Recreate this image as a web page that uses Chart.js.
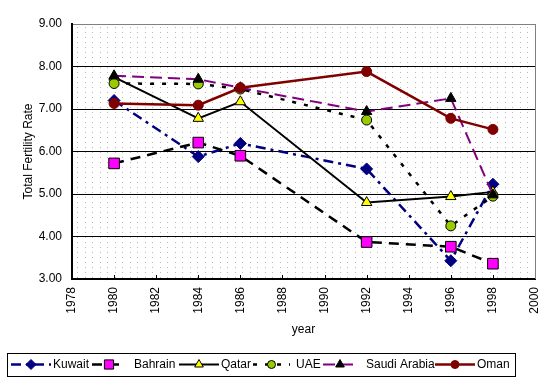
<!DOCTYPE html>
<html>
<head>
<meta charset="utf-8">
<script src="https://cdn.jsdelivr.net/npm/chart.js@4/dist/chart.umd.min.js"></script>
<style>
html,body{margin:0;padding:0;background:#fff;}
#wrap{width:559px;height:381px;position:relative;}
</style>
</head>
<body>
<div id="wrap"><canvas id="c" width="559" height="381"></canvas></div>
<script>
const years = [1980, 1984, 1986, 1992, 1996, 1998];
const kuwait = [7.20, 5.88, 6.19, 5.59, 3.43, 5.23];
const bahrain = [5.72, 6.21, 5.90, 3.87, 3.76, 3.36];
const qatar = [7.75, 6.78, 7.17, 4.80, 4.94, 5.05];
const uae = [7.60, 7.59, 7.47, 6.74, 4.25, 4.95];
const saudi = [7.78, 7.70, 7.50, 6.94, 7.25, 4.98];
const oman = [7.13, 7.09, 7.50, 7.88, 6.78, 6.52];
const legendNames = ['Kuwait', 'Bahrain', 'Qatar', 'UAE', 'Saudi Arabia', 'Oman'];

const FONT = '"Liberation Sans", Arial, sans-serif';
const pts = arr => years.map((y, i) => ({x: y, y: arr[i]}));

function ds(label, data, lineColor, width, dash, style, fill, border, radius) {
  return {
    label, data: pts(data), borderColor: lineColor, borderWidth: width, borderDash: dash,
    pointStyle: style, pointBackgroundColor: fill, pointBorderColor: border, pointBorderWidth: 1,
    pointRadius: radius, pointHoverRadius: radius, tension: 0, fill: false
  };
}

// first dataset is drawn on top
const datasets = [
  ds('Oman', oman, '#800000', 2.5, [], 'circle', '#800000', '#800000', 5),
  ds('Saudi Arabia', saudi, '#800080', 2, [12, 6], 'triangle', '#000000', '#000000', 6),
  ds('UAE', uae, '#000000', 2.5, [4, 8], 'circle', '#99cc00', '#000000', 5),
  ds('Qatar', qatar, '#000000', 2, [], 'triangle', '#ffff00', '#000000', 6),
  ds('Bahrain', bahrain, '#000000', 2.5, [10, 7], 'rect', '#ff00ff', '#000000', 7.5),
  ds('Kuwait', kuwait, '#000080', 2.5, [10, 5, 3, 5], 'rectRot', '#000080', '#000080', 6)
];

const legendLayout = {
  'Kuwait': [11, 40, 53], 'Bahrain': [92, 34, 134], 'Qatar': [179, 40, 221],
  'UAE': [253, 37, 296], 'Saudi Arabia': [323, 34, 366], 'Oman': [435, 40, 477]
};

const bgPlugin = {
  id: 'bg',
  beforeDraw(chart) {
    const {ctx, chartArea: a} = chart;
    ctx.save();
    ctx.fillStyle = '#ffffff';
    ctx.fillRect(a.left, a.top, a.right - a.left, a.bottom - a.top);
    ctx.fillStyle = '#b8b8b8';
    for (let y = a.top + 3; y < a.bottom; y += 5) {
      for (let x = a.left + 5; x < a.right; x += 7.5) {
        ctx.fillRect(Math.round(x), y, 1, 1);
      }
    }
    ctx.restore();
  },
  afterDatasetsDraw(chart) {
    const {ctx, chartArea: a} = chart;
    const xs = chart.scales.x;
    ctx.save();
    ctx.strokeStyle = '#808080';
    ctx.lineWidth = 1;
    ctx.beginPath();
    ctx.moveTo(a.right + 0.5, a.top);
    ctx.lineTo(a.right + 0.5, a.bottom);
    ctx.stroke();
    ctx.strokeStyle = '#000';
    ctx.beginPath();
    for (let v = 1980; v <= 1998; v += 2) {
      const px = Math.round(xs.getPixelForValue(v)) + 0.5;
      ctx.moveTo(px, a.bottom - 4);
      ctx.lineTo(px, a.bottom);
    }
    ctx.stroke();
    ctx.restore();
  },
  afterDraw(chart) {
    const {ctx} = chart;
    ctx.save();
    const top = 353, bottom = 376, left = 7, right = 515;
    ctx.strokeStyle = '#000';
    ctx.lineWidth = 1;
    ctx.strokeRect(left + 0.5, top + 0.5, right - left, bottom - top);
    ctx.font = '12px ' + FONT;
    ctx.textBaseline = 'middle';
    const cy = 364.5;
    legendNames.forEach(name => {
      const d = chart.data.datasets.find(s => s.label === name);
      const [x, w, tx] = legendLayout[name];
      ctx.save();
      ctx.strokeStyle = d.borderColor;
      ctx.lineWidth = d.borderWidth;
      ctx.setLineDash(d.borderDash || []);
      ctx.beginPath();
      ctx.moveTo(x, cy);
      ctx.lineTo(x + w, cy);
      ctx.stroke();
      ctx.setLineDash([]);
      ctx.fillStyle = d.pointBackgroundColor;
      ctx.strokeStyle = d.pointBorderColor;
      ctx.lineWidth = 1;
      const r = d.pointStyle === 'rect' ? 6.5 : d.pointRadius - 1;
      Chart.helpers.drawPoint(ctx, {pointStyle: d.pointStyle, radius: r, borderWidth: 1}, x + w / 2, cy);
      ctx.restore();
      ctx.fillStyle = '#000';
      ctx.fillText(name, tx, cy);
    });
    ctx.restore();
  }
};

new Chart(document.getElementById('c'), {
  type: 'line',
  data: {datasets},
  plugins: [bgPlugin],
  options: {
    responsive: false,
    animation: false,
    events: [],
    layout: {padding: {left: 0, top: 24, right: 24, bottom: 42}},
    plugins: {legend: {display: false}, tooltip: {enabled: false}},
    scales: {
      x: {
        type: 'linear', min: 1978, max: 2000,
        afterFit(s) { s.height = 60; },
        ticks: {stepSize: 2, minRotation: 90, maxRotation: 90, padding: 8, color: '#000',
          font: {family: FONT, size: 12}, callback: v => String(v)},
        grid: {display: false, drawTicks: false},
        border: {display: true, color: '#000', width: 2},
        title: {display: true, text: 'year', color: '#000', font: {family: FONT, size: 12}, padding: {top: 0, bottom: 2}}
      },
      y: {
        min: 3, max: 9,
        afterFit(s) { s.width = 72; },
        ticks: {stepSize: 1, padding: 10, color: '#000', font: {family: FONT, size: 12},
          callback: v => Number(v).toFixed(2)},
        grid: {drawTicks: false, lineWidth: 1,
          color: c => c.tick && c.tick.value === 9 ? '#808080' : '#000'},
        border: {display: true, color: '#000', width: 2},
        title: {display: true, text: 'Total Fertility Rate', color: '#000', font: {family: FONT, size: 12}, padding: {top: 21, bottom: 0}}
      }
    }
  }
});
</script>
</body>
</html>
